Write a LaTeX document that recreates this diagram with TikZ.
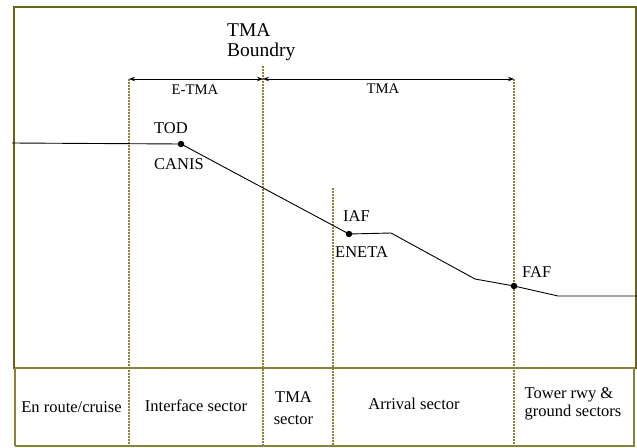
\documentclass[tikz,border=0pt]{standalone}
\usepackage{fontspec}
\setmainfont{Liberation Serif}
\usetikzlibrary{arrows.meta}
\definecolor{frameol}{RGB}{105,100,20}
\definecolor{boxol}{RGB}{135,130,60}
\definecolor{dashol}{RGB}{140,130,50}
\tikzset{
  guide/.style={draw=dashol, line width=1.1pt, dash pattern=on 2pt off 1pt},
  path/.style={draw=black, line width=0.9pt},
  fix/.style={circle, fill=black, inner sep=0pt, minimum size=6.5pt},
  ptlabel/.style={font=\rmfamily\fontsize{16.5}{18}\selectfont, inner sep=0pt},
  spanlabel/.style={font=\rmfamily\fontsize{14.7}{16}\selectfont, inner sep=0pt},
  seclabel/.style={font=\rmfamily\fontsize{16.5}{18}\selectfont, inner sep=0pt, align=center},
  span/.style={draw=black, line width=0.9pt, {Stealth[length=6pt,width=4.5pt]}-{Stealth[length=6pt,width=4.5pt]}},
}
\begin{document}
\begin{tikzpicture}[x=1pt,y=-1pt]
\useasboundingbox (0,0) rectangle (637,447);
\fill[white] (0,0) rectangle (637,447);
% frames
\draw[frameol, line width=1.6pt] (14,7) rectangle (636,368);
\draw[boxol, line width=1.5pt] (15.5,368) rectangle (634,446);
\draw[boxol, line width=2.4pt] (15,368) -- (15,446);
% guide lines
\coordinate (g1t) at (129,79);  \coordinate (g1b) at (129,445);
\coordinate (g2t) at (263,66);  \coordinate (g2b) at (263,445);
\coordinate (g3t) at (333,188); \coordinate (g3b) at (333,445);
\coordinate (g4t) at (514,79);  \coordinate (g4b) at (514,445);
\draw[guide] (g1t) -- (g1b);
\draw[guide] (g2t) -- (g2b);
\draw[guide] (g3t) -- (g3b);
\draw[guide] (g4t) -- (g4b);
% spans
\coordinate (a1) at (129,79);
\coordinate (a2) at (263,79);
\coordinate (a3) at (514,79);
\draw[span] (a1) -- (a2);
\draw[span] (a2) -- (a3);
\node[spanlabel] (etma) at (195,90) {E-TMA};
\node[spanlabel] (tma) at (383,89) {TMA};
\node[inner sep=0pt, anchor=west, align=left, font=\rmfamily\fontsize{19.5}{20}\selectfont] (bound) at (227,42) {TMA\\Boundry};
% flight path
\coordinate (start) at (12,143);
\node[fix] (tod) at (181,144) {};
\node[fix] (iaf) at (349,234) {};
\coordinate (b1) at (391,233);
\coordinate (b2) at (475,279);
\node[fix] (faf) at (514,286) {};
\coordinate (b3) at (558,296);
\coordinate (end) at (637,296);
\draw[path] (start) -- (tod.center) -- (iaf.center) -- (b1) -- (b2) -- (faf.center) -- (b3) -- (end);
\node[ptlabel, anchor=west] (todl) at (154,128) {TOD};
\node[ptlabel, anchor=west] (canis) at (154,164) {CANIS};
\node[ptlabel, anchor=west] (iafl) at (343,216) {IAF};
\node[ptlabel, anchor=west] (eneta) at (335,252) {ENETA};
\node[ptlabel, anchor=west] (fafl) at (522,272) {FAF};
% sector labels
\node[seclabel] (s1) at (71.5,407) {En route/cruise};
\node[seclabel] (s2) at (196,406) {Interface sector};
\node[seclabel, font=\rmfamily\fontsize{16.5}{22}\selectfont] (s3) at (293.5,408) {TMA\\sector};
\node[seclabel] (s4) at (414,404) {Arrival sector};
\node[seclabel, align=left] (s5) at (573,404) {Tower rwy \&\\ground sectors};
\end{tikzpicture}
\end{document}
